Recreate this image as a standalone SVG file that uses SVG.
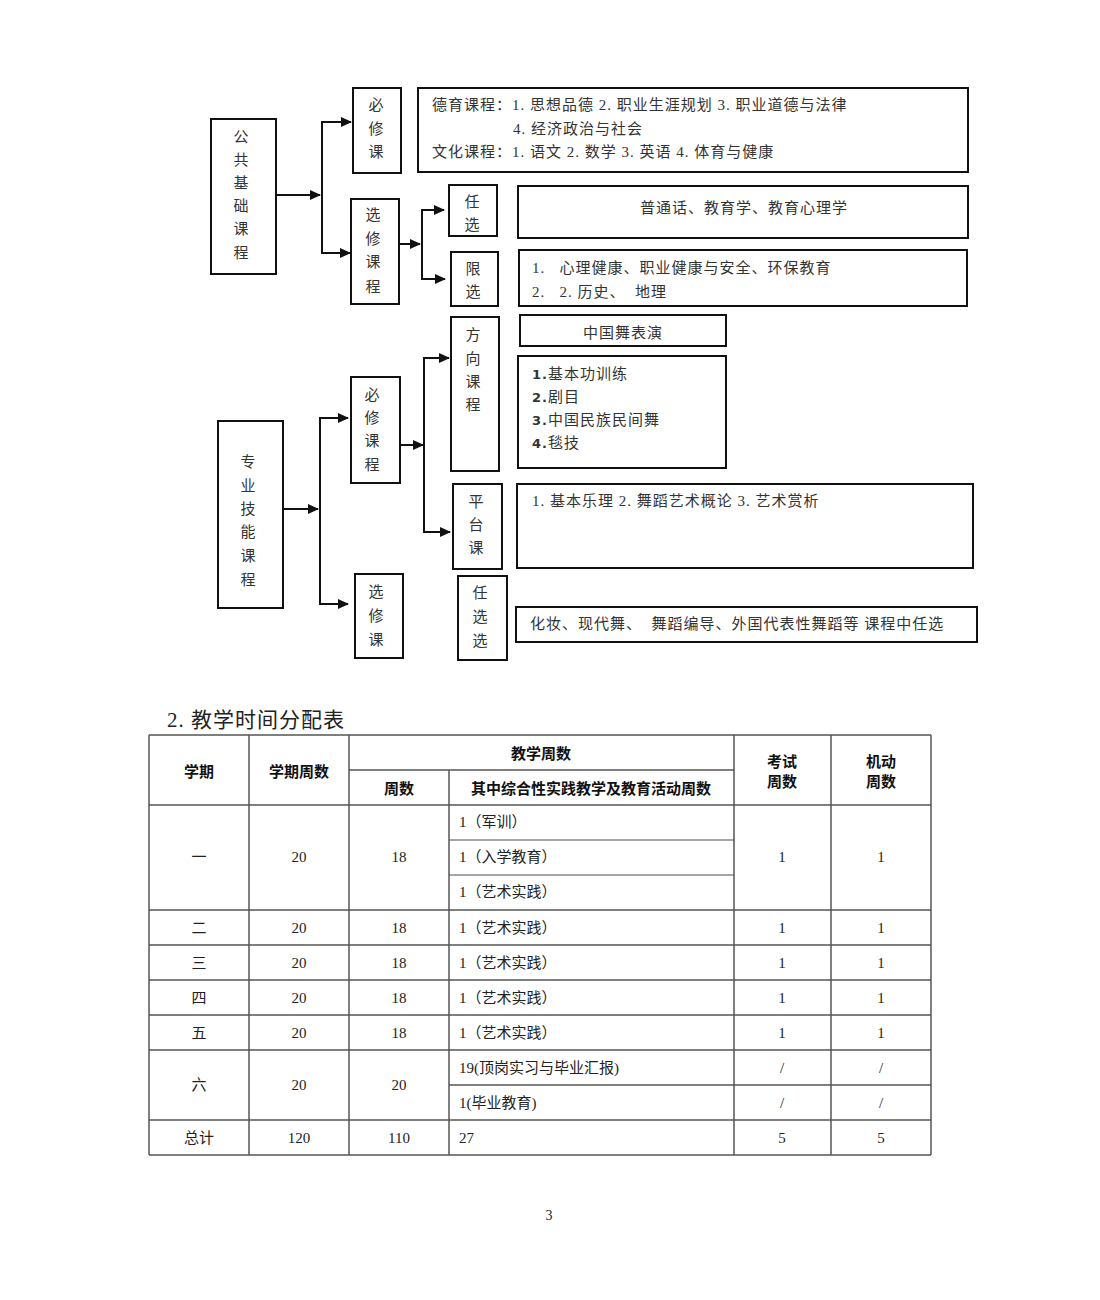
<svg xmlns="http://www.w3.org/2000/svg" width="1100" height="1300" viewBox="0 0 1100 1300">
<style>
.box{fill:#fff;stroke:#111;stroke-width:2}
.t{font-family:"Liberation Serif","Noto Sans CJK SC",serif;font-size:15px;fill:#333;dominant-baseline:central}
.c{text-anchor:middle}
.ls{letter-spacing:1px}
.b{font-family:"DejaVu Sans","Noto Sans CJK SC",sans-serif;font-weight:bold;font-size:13px}
.conn{fill:none;stroke:#111;stroke-width:2}
.grid{stroke:#555;stroke-width:1.5;fill:none}
.grid2{stroke:#888;stroke-width:1.5;fill:none}
.th{font-family:"Noto Sans CJK SC",sans-serif;font-size:15px;font-weight:bold;fill:#111;text-anchor:middle;dominant-baseline:central}
.td{font-family:"Liberation Serif","Noto Sans CJK SC",serif;font-size:15px;fill:#222;dominant-baseline:central}
</style>
<defs>
<marker id="arr" markerWidth="11" markerHeight="10" refX="10" refY="5" orient="auto" markerUnits="userSpaceOnUse">
<path d="M0,0 L11,5 L0,10 z" fill="#111"/>
</marker>
</defs>
<rect width="1100" height="1300" fill="#fff"/>

<g id="connectors">
<line class="conn" x1="277" y1="195" x2="320" y2="195" marker-end="url(#arr)"/>
<polyline class="conn" points="351,122 322,122 322,253 351,253"/>
<line class="conn" x1="322" y1="122" x2="351" y2="122" marker-end="url(#arr)"/>
<line class="conn" x1="322" y1="253" x2="350" y2="253" marker-end="url(#arr)"/>
<line class="conn" x1="400" y1="244" x2="420" y2="244" marker-end="url(#arr)"/>
<polyline class="conn" points="442,210 422,210 422,279 442,279"/>
<line class="conn" x1="422" y1="210" x2="444" y2="210" marker-end="url(#arr)"/>
<line class="conn" x1="422" y1="279" x2="445" y2="279" marker-end="url(#arr)"/>

<line class="conn" x1="284" y1="509" x2="318" y2="509" marker-end="url(#arr)"/>
<polyline class="conn" points="347,418 320,418 320,604 347,604"/>
<line class="conn" x1="320" y1="418" x2="348" y2="418" marker-end="url(#arr)"/>
<line class="conn" x1="320" y1="604" x2="348" y2="604" marker-end="url(#arr)"/>
<line class="conn" x1="401" y1="445" x2="423" y2="445" marker-end="url(#arr)"/>
<polyline class="conn" points="448,358 424,358 424,532 448,532"/>
<line class="conn" x1="424" y1="358" x2="449" y2="358" marker-end="url(#arr)"/>
<line class="conn" x1="424" y1="532" x2="450" y2="532" marker-end="url(#arr)"/>
</g>

<g id="gonggong">
<rect class="box" x="211" y="119" width="65" height="155"/>
<text class="t c" x="241" y="137">公</text>
<text class="t c" x="241" y="160">共</text>
<text class="t c" x="241" y="183">基</text>
<text class="t c" x="241" y="206">础</text>
<text class="t c" x="241" y="229">课</text>
<text class="t c" x="241" y="253">程</text>
</g>
<g id="bixiu1">
<rect class="box" x="353" y="88" width="48" height="85"/>
<text class="t c" x="376" y="105">必</text>
<text class="t c" x="376" y="129">修</text>
<text class="t c" x="376" y="152">课</text>
</g>
<g id="bixiu1-content">
<rect class="box" x="418" y="88" width="550" height="84"/>
<text class="t ls" x="432" y="105">德育课程：1. 思想品德 2. 职业生涯规划 3. 职业道德与法律</text>
<text class="t ls" x="513" y="129">4. 经济政治与社会</text>
<text class="t ls" x="432" y="152">文化课程：1. 语文 2. 数学 3. 英语 4. 体育与健康</text>
</g>
<g id="xuanxiu1">
<rect class="box" x="351" y="199" width="48" height="105"/>
<text class="t c" x="373" y="215">选</text>
<text class="t c" x="373" y="239">修</text>
<text class="t c" x="373" y="262">课</text>
<text class="t c" x="373" y="287">程</text>
</g>
<g id="renxuan1">
<rect class="box" x="449" y="185" width="48" height="51"/>
<text class="t c" x="472" y="202">任</text>
<text class="t c" x="472" y="225">选</text>
</g>
<g id="xianxuan1">
<rect class="box" x="451" y="252" width="47" height="54"/>
<text class="t c" x="473" y="269">限</text>
<text class="t c" x="473" y="292">选</text>
</g>
<g id="renxuan1-content">
<rect class="box" x="518" y="186" width="450" height="52"/>
<text class="t c ls" x="744" y="208">普通话、教育学、教育心理学</text>
</g>
<g id="xianxuan1-content">
<rect class="box" x="519" y="250" width="448" height="56"/>
<text class="t ls" x="532" y="268" xml:space="preserve">1.   心理健康、职业健康与安全、环保教育</text>
<text class="t ls" x="532" y="292" xml:space="preserve">2.   2. 历史、  地理</text>
</g>

<g id="zhuanye">
<rect class="box" x="218" y="421" width="65" height="187"/>
<text class="t c" x="248" y="462">专</text>
<text class="t c" x="248" y="486">业</text>
<text class="t c" x="248" y="509">技</text>
<text class="t c" x="248" y="532">能</text>
<text class="t c" x="248" y="556">课</text>
<text class="t c" x="248" y="580">程</text>
</g>
<g id="bixiu2">
<rect class="box" x="351" y="377" width="49" height="106"/>
<text class="t c" x="372" y="395">必</text>
<text class="t c" x="372" y="418">修</text>
<text class="t c" x="372" y="441">课</text>
<text class="t c" x="372" y="465">程</text>
</g>
<g id="fangxiang">
<rect class="box" x="451" y="317" width="48" height="154"/>
<text class="t c" x="473" y="335">方</text>
<text class="t c" x="473" y="359">向</text>
<text class="t c" x="473" y="382">课</text>
<text class="t c" x="473" y="405">程</text>
</g>
<g id="pingtai">
<rect class="box" x="453" y="484" width="49" height="85"/>
<text class="t c" x="476" y="502">平</text>
<text class="t c" x="476" y="525">台</text>
<text class="t c" x="476" y="548">课</text>
</g>
<g id="xuanxiu2">
<rect class="box" x="355" y="574" width="48" height="84"/>
<text class="t c" x="376" y="592">选</text>
<text class="t c" x="376" y="616">修</text>
<text class="t c" x="376" y="640">课</text>
</g>
<g id="renxuan2">
<rect class="box" x="458" y="576" width="49" height="84"/>
<text class="t c" x="480" y="593">任</text>
<text class="t c" x="480" y="617">选</text>
<text class="t c" x="480" y="641">选</text>
</g>
<g id="zhongguowu">
<rect class="box" x="520" y="315" width="206" height="31"/>
<text class="t c ls" x="623" y="333">中国舞表演</text>
</g>
<g id="fangxiang-content">
<rect class="box" x="518" y="356" width="208" height="112"/>
<text class="t ls" x="532" y="374"><tspan class="b">1.</tspan>基本功训练</text>
<text class="t ls" x="532" y="397"><tspan class="b">2.</tspan>剧目</text>
<text class="t ls" x="532" y="420"><tspan class="b">3.</tspan>中国民族民间舞</text>
<text class="t ls" x="532" y="443"><tspan class="b">4.</tspan>毯技</text>
</g>
<g id="pingtai-content">
<rect class="box" x="517" y="484" width="456" height="84"/>
<text class="t ls" x="532" y="501">1. 基本乐理  2. 舞蹈艺术概论  3. 艺术赏析</text>
</g>
<g id="renxuan2-content">
<rect class="box" x="516" y="607" width="461" height="35"/>
<text class="t ls" x="530" y="624" xml:space="preserve">化妆、现代舞、  舞蹈编导、外国代表性舞蹈等 课程中任选</text>
</g>

<text x="167" y="727" font-family="Liberation Serif,Noto Sans CJK SC,serif" font-size="21" letter-spacing="1" fill="#222">2. 教学时间分配表</text>

<g id="table">
<line class="grid" x1="149" y1="735" x2="931" y2="735"/>
<line class="grid" x1="349" y1="770" x2="734" y2="770"/>
<line class="grid" x1="149" y1="805" x2="931" y2="805"/>
<line class="grid2" x1="449" y1="840" x2="734" y2="840"/>
<line class="grid2" x1="449" y1="875" x2="734" y2="875"/>
<line class="grid" x1="149" y1="910" x2="931" y2="910"/>
<line class="grid" x1="149" y1="945" x2="931" y2="945"/>
<line class="grid" x1="149" y1="980" x2="931" y2="980"/>
<line class="grid" x1="149" y1="1015" x2="931" y2="1015"/>
<line class="grid" x1="149" y1="1050" x2="931" y2="1050"/>
<line class="grid" x1="449" y1="1085" x2="931" y2="1085"/>
<line class="grid" x1="149" y1="1120" x2="931" y2="1120"/>
<line class="grid" x1="149" y1="1155" x2="931" y2="1155"/>
<line class="grid" x1="149" y1="735" x2="149" y2="1155"/>
<line class="grid" x1="249" y1="735" x2="249" y2="1155"/>
<line class="grid" x1="349" y1="735" x2="349" y2="1155"/>
<line class="grid" x1="449" y1="770" x2="449" y2="1155"/>
<line class="grid" x1="734" y1="735" x2="734" y2="1155"/>
<line class="grid" x1="831" y1="735" x2="831" y2="1155"/>
<line class="grid" x1="931" y1="735" x2="931" y2="1155"/>

<text class="th" x="199" y="770">学期</text>
<text class="th" x="299" y="770">学期周数</text>
<text class="th" x="541" y="752">教学周数</text>
<text class="th" x="399" y="787">周数</text>
<text class="th" x="591" y="787">其中综合性实践教学及教育活动周数</text>
<text class="th" x="782" y="760">考试</text>
<text class="th" x="782" y="780">周数</text>
<text class="th" x="881" y="760">机动</text>
<text class="th" x="881" y="780">周数</text>

<g text-anchor="middle">
<text class="td" x="199" y="857" text-anchor="middle">一</text>
<text class="td" x="299" y="857" text-anchor="middle">20</text>
<text class="td" x="399" y="857" text-anchor="middle">18</text>
<text class="td" x="782" y="857" text-anchor="middle">1</text>
<text class="td" x="881" y="857" text-anchor="middle">1</text>

<text class="td" x="199" y="928" text-anchor="middle">二</text>
<text class="td" x="299" y="928" text-anchor="middle">20</text>
<text class="td" x="399" y="928" text-anchor="middle">18</text>
<text class="td" x="782" y="928" text-anchor="middle">1</text>
<text class="td" x="881" y="928" text-anchor="middle">1</text>

<text class="td" x="199" y="963" text-anchor="middle">三</text>
<text class="td" x="299" y="963" text-anchor="middle">20</text>
<text class="td" x="399" y="963" text-anchor="middle">18</text>
<text class="td" x="782" y="963" text-anchor="middle">1</text>
<text class="td" x="881" y="963" text-anchor="middle">1</text>

<text class="td" x="199" y="998" text-anchor="middle">四</text>
<text class="td" x="299" y="998" text-anchor="middle">20</text>
<text class="td" x="399" y="998" text-anchor="middle">18</text>
<text class="td" x="782" y="998" text-anchor="middle">1</text>
<text class="td" x="881" y="998" text-anchor="middle">1</text>

<text class="td" x="199" y="1033" text-anchor="middle">五</text>
<text class="td" x="299" y="1033" text-anchor="middle">20</text>
<text class="td" x="399" y="1033" text-anchor="middle">18</text>
<text class="td" x="782" y="1033" text-anchor="middle">1</text>
<text class="td" x="881" y="1033" text-anchor="middle">1</text>

<text class="td" x="199" y="1085" text-anchor="middle">六</text>
<text class="td" x="299" y="1085" text-anchor="middle">20</text>
<text class="td" x="399" y="1085" text-anchor="middle">20</text>
<text class="td" x="782" y="1068" text-anchor="middle">/</text>
<text class="td" x="881" y="1068" text-anchor="middle">/</text>
<text class="td" x="782" y="1103" text-anchor="middle">/</text>
<text class="td" x="881" y="1103" text-anchor="middle">/</text>

<text class="td" x="199" y="1138" text-anchor="middle">总计</text>
<text class="td" x="299" y="1138" text-anchor="middle">120</text>
<text class="td" x="399" y="1138" text-anchor="middle">110</text>
<text class="td" x="782" y="1138" text-anchor="middle">5</text>
<text class="td" x="881" y="1138" text-anchor="middle">5</text>
</g>

<text class="td" x="459" y="822">1（军训）</text>
<text class="td" x="459" y="857">1（入学教育）</text>
<text class="td" x="459" y="892">1（艺术实践）</text>
<text class="td" x="459" y="928">1（艺术实践）</text>
<text class="td" x="459" y="963">1（艺术实践）</text>
<text class="td" x="459" y="998">1（艺术实践）</text>
<text class="td" x="459" y="1033">1（艺术实践）</text>
<text class="td" x="459" y="1068">19(顶岗实习与毕业汇报)</text>
<text class="td" x="459" y="1103">1(毕业教育)</text>
<text class="td" x="459" y="1138">27</text>
</g>

<text x="549" y="1220" font-family="Liberation Serif,serif" font-size="14" fill="#222" text-anchor="middle">3</text>
</svg>
